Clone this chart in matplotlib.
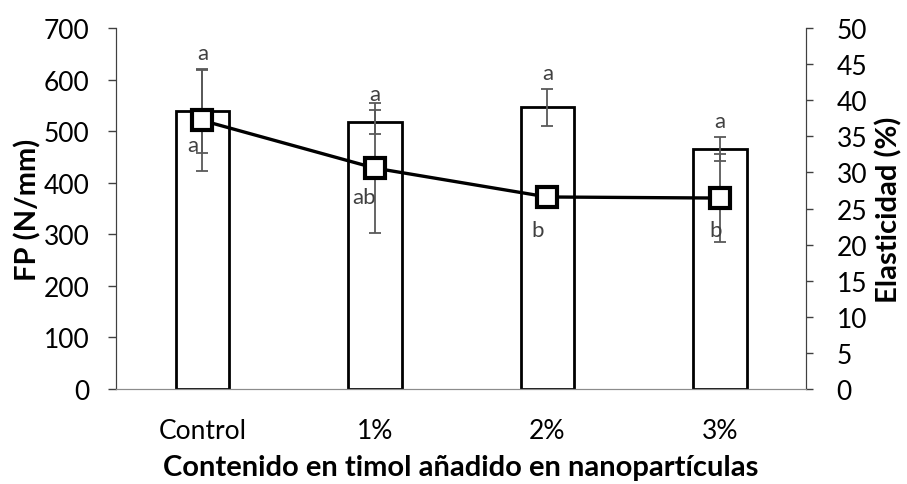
"""Tensile strength (bars) and elasticity (line) vs thymol content."""

import matplotlib.pyplot as plt
import numpy as np

plt.rcParams["font.family"] = ["Lato", "DejaVu Sans"]

categories = ["Control", "1%", "2%", "3%"]
fp_values = [539, 518, 546, 465]
fp_errors = [81, 23.5, 35, 23.5]
fp_letters = ["a", "a", "a", "a"]

elast_values = [37.2, 30.6, 26.6, 26.45]
elast_errors = [7.0, 9.0, 0.4, 6.1]
elast_letters = ["a", "ab", "b", "b"]

# manual label nudges in pixels (x, y) below the markers
elast_offsets = [(-10, -25), (-11, -29), (-10, -33), (-4, -32)]

GRAY = "#595959"
TXT = "#404040"
TICK_FS = 19
LABEL_FS = 21

fig = plt.figure(figsize=(9.07, 4.85), dpi=100)
ax = fig.add_axes([0.128, 0.196, 0.7607, 0.744])
ax2 = ax.twinx()

x = np.arange(len(categories))
ax.bar(x, fp_values, width=0.31, color="white", edgecolor="black",
       linewidth=2.0, zorder=2)
ax.errorbar(x, fp_values, yerr=fp_errors, fmt="none", ecolor=GRAY,
            elinewidth=1.3, capsize=4.5, capthick=1.3, zorder=3)
for xi, v, e, lab in zip(x, fp_values, fp_errors, fp_letters):
    ax.annotate(lab, (xi, v + e), xytext=(0, 6), textcoords="offset pixels",
                ha="center", va="bottom", fontsize=16, color=TXT)

ax2.errorbar(x, elast_values, yerr=elast_errors, fmt="none", ecolor=GRAY,
             elinewidth=1.3, capsize=4.5, capthick=1.3, zorder=3)
ax2.plot(x, elast_values, color="black", linewidth=2.4, marker="s",
         markersize=14.5, markerfacecolor="white", markeredgecolor="black",
         markeredgewidth=3.0, zorder=4)
for xi, v, lab, (dx, dy) in zip(x, elast_values, elast_letters, elast_offsets):
    ax2.annotate(lab, (xi, v), xytext=(dx, dy), textcoords="offset pixels",
                 ha="center", va="center", fontsize=16, color=TXT)

ax.set_xlim(-0.5, len(categories) - 0.5)
ax.set_ylim(0, 700)
ax.set_yticks(range(0, 701, 100))
ax2.set_ylim(0, 50)
ax2.set_yticks(range(0, 51, 5))
ax.set_xticks(x)
ax.set_xticklabels(categories)

ax.tick_params(axis="x", length=0, labelsize=TICK_FS, pad=21)
ax.tick_params(axis="y", length=6, width=1, color="#404040",
               labelsize=TICK_FS, pad=13)
ax2.tick_params(axis="y", length=5, width=1, color="#404040",
                labelsize=TICK_FS, pad=17)

for a in (ax, ax2):
    a.spines["top"].set_visible(False)
    a.spines["left"].set_color("#404040")
    a.spines["right"].set_color("#404040")
    a.spines["bottom"].set_color("#8c8c8c")
ax.set_zorder(ax2.get_zorder() - 1)
ax.patch.set_visible(False)

ax.set_ylabel("FP (N/mm)", fontsize=LABEL_FS, fontweight="bold", labelpad=2)
ax2.set_ylabel("Elasticidad (%)", fontsize=LABEL_FS, fontweight="bold",
               labelpad=6)
ax.set_xlabel("Contenido en timol añadido en nanopartículas",
              fontsize=LABEL_FS, fontweight="bold", labelpad=8)

fig.savefig("out.png", dpi=100)
